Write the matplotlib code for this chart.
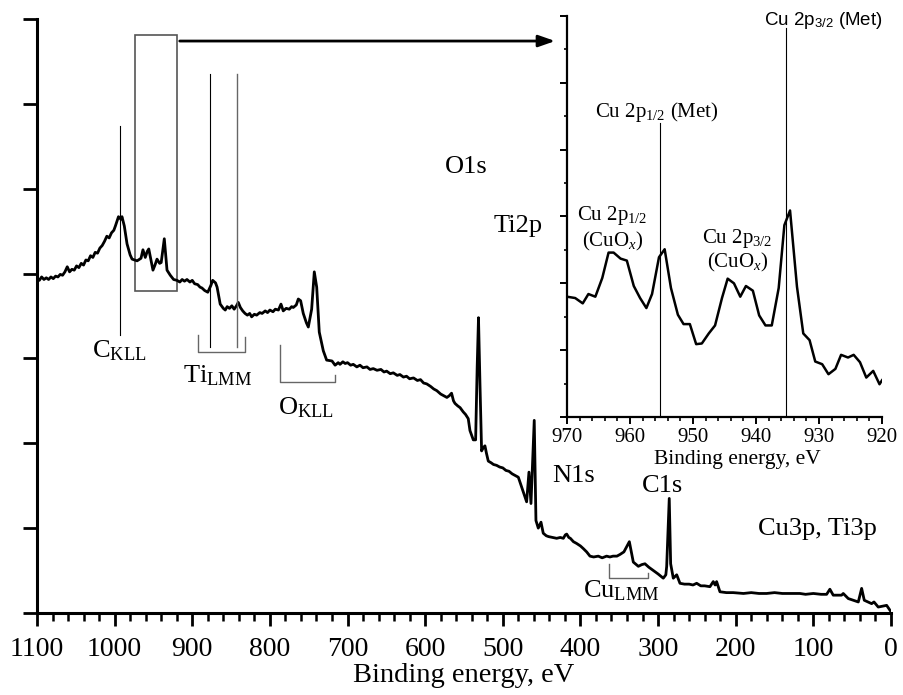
import matplotlib
matplotlib.use("Agg")
import matplotlib.pyplot as plt
from matplotlib.patches import Rectangle
from matplotlib.ticker import MultipleLocator

plt.rcParams['font.family'] = ['Liberation Serif', 'DejaVu Serif']
plt.rcParams['mathtext.fontset'] = 'custom'
plt.rcParams['mathtext.rm'] = 'Liberation Serif'
plt.rcParams['mathtext.it'] = 'Liberation Serif:italic'
plt.rcParams['mathtext.sf'] = 'Liberation Sans'

# survey spectrum (binding energy, eV / intensity, arb. units)
survey_be = [1100, 1097, 1094, 1091, 1088, 1085, 1082, 1079, 1076, 1073, 1070, 1067, 1064, 1061,
             1058, 1055, 1052, 1049, 1046, 1043, 1040, 1037, 1034, 1031, 1028, 1025, 1022, 1019,
             1016, 1013, 1010, 1007, 1004, 1001, 999, 995, 992, 990.5, 987.5,
             984, 980, 977.5, 971, 966, 963.5, 960.5, 958, 956, 953, 950.6, 948, 945.4, 942, 940,
             936, 932.5, 928.3, 924, 919.7, 916, 913, 910, 906.8, 903, 900, 897, 893, 890, 887.5,
             884, 880, 876, 873.7, 870, 868, 864,
             860, 857.5, 855, 852, 849, 846, 843, 840.7, 838, 835, 832, 829, 826, 823.5, 820, 817,
             813, 810, 806, 803, 800, 796, 793, 789, 785.7, 782.8, 779, 775, 772, 769.9, 766,
             763.4, 760.4, 757, 753, 750.5,
             746.2, 742.8, 739.7, 736.4, 731.2, 726.9, 720,
             716, 712, 709.7, 706, 703, 700, 696, 692.6, 688, 684, 680, 675, 671, 666.8, 662, 657,
             653, 649.6, 645, 641, 636, 632.5, 628, 624, 620, 615, 610, 606, 602, 598, 593, 589,
             585, 580, 576, 572, 569, 566, 563.5, 561.6, 558, 555, 551, 548, 544.5, 542.3,
             538, 535, 533, 531.3, 529.4,
             527.3, 525, 523, 521, 518.7, 515, 512, 508, 504, 500, 496, 492, 488, 484, 480, 474.4,
             469.3, 466.3, 463.7, 459.5, 457.3, 454.3, 450.8,
             447.9, 444, 441, 436, 430.6, 426, 422, 419.5, 417.7, 415, 413, 409, 405, 400, 396.4,
             392, 387.7, 383, 377, 372, 366.3, 362, 358, 353, 349, 344, 340.5, 337, 334, 331.9,
             328, 325.4, 321, 316.9, 312, 306.1, 300, 293.3, 290, 288.9, 285.6, 283.8, 280.4, 276,
             271.8, 266, 260, 255, 250.3, 245, 240, 233.2, 228.9, 226.5, 224.6, 220.3, 212, 203.2,
             190, 180, 170, 160.2, 150, 140, 130, 117.3, 110, 100, 90, 82.9, 78.7, 74.4, 63.6,
             61.5, 55, 42.1, 37.8, 34.4, 24.9, 21.9, 16.4, 5.6, 0.4]
survey_int = [3.95, 3.92, 3.96, 3.93, 3.95, 3.93, 3.96, 3.94, 3.97, 3.96, 3.99, 3.98, 4.02, 4.08,
              4.02, 4.05, 4.04, 4.09, 4.07, 4.12, 4.10, 4.16, 4.15, 4.21, 4.19, 4.25, 4.24, 4.30,
              4.33, 4.38, 4.44, 4.42, 4.48, 4.51, 4.56, 4.67, 4.64, 4.67, 4.56,
              4.35, 4.22, 4.17, 4.15, 4.18, 4.28, 4.19, 4.26, 4.29, 4.15, 4.04, 4.10, 4.17, 4.12,
              4.13, 4.41, 4.04, 3.98, 3.93, 3.92, 3.90, 3.93, 3.91, 3.93, 3.90, 3.92, 3.88, 3.87,
              3.84, 3.83, 3.80, 3.78, 3.86, 3.92, 3.89, 3.84, 3.64,
              3.59, 3.57, 3.61, 3.59, 3.62, 3.58, 3.62, 3.66, 3.60, 3.56, 3.53, 3.51, 3.53, 3.49,
              3.52, 3.51, 3.54, 3.53, 3.56, 3.54, 3.57, 3.55, 3.58, 3.57, 3.64, 3.56, 3.59, 3.58,
              3.61, 3.60, 3.63, 3.70, 3.68, 3.53, 3.42, 3.37,
              3.58, 4.02, 3.84, 3.31, 3.09, 2.98, 2.97,
              2.92, 2.95, 2.93, 2.96, 2.94, 2.95, 2.92, 2.93, 2.90, 2.92, 2.89, 2.90, 2.87, 2.88,
              2.86, 2.87, 2.84, 2.85, 2.82, 2.83, 2.80, 2.81, 2.78, 2.79, 2.76, 2.77, 2.74, 2.75,
              2.71, 2.70, 2.67, 2.64, 2.62, 2.58, 2.56, 2.54, 2.56, 2.59, 2.50, 2.47, 2.44, 2.42,
              2.37, 2.34, 2.29, 2.15,
              2.04, 2.04, 2.90, 3.48, 2.70,
              1.91, 1.95, 1.97, 1.88, 1.79, 1.77, 1.75, 1.74, 1.72, 1.71, 1.68, 1.67, 1.64, 1.62,
              1.60, 1.45, 1.31, 1.66, 1.29, 2.27, 1.09, 1.00, 1.07,
              0.94, 0.91, 0.90, 0.89, 0.88, 0.89, 0.88, 0.92, 0.93, 0.89, 0.88, 0.84, 0.82, 0.79,
              0.76, 0.72, 0.67, 0.66, 0.67, 0.65, 0.67, 0.66, 0.67, 0.67, 0.69, 0.72, 0.78, 0.84,
              0.70, 0.60, 0.57, 0.55, 0.57, 0.58, 0.54, 0.50, 0.46, 0.41, 0.45, 0.55, 1.35, 0.58,
              0.41, 0.45,
              0.35, 0.34, 0.34, 0.33, 0.35, 0.32, 0.32, 0.31, 0.37, 0.33, 0.37, 0.25, 0.24, 0.24,
              0.23, 0.24, 0.23, 0.23, 0.24, 0.23, 0.23, 0.23, 0.22, 0.23, 0.22, 0.22, 0.28, 0.21,
              0.21, 0.23, 0.17, 0.13, 0.29, 0.15, 0.11, 0.13, 0.07, 0.09, 0.02]

# Cu 2p detail (inset)
cu_be = [970, 968.7, 967.5, 966.6, 965.5, 964.4, 963.4, 962.6, 961.5, 960.5, 959.4, 958.4, 957.4,
         956.5, 955.4, 954.5, 953.5, 952.4, 951.5, 950.5, 949.5, 948.6, 947.5, 946.5, 945.4,
         944.5, 943.5, 942.5, 941.6, 940.5, 939.5, 938.5, 937.5, 936.4, 935.5, 934.6, 933.5,
         932.5, 931.5, 930.6, 929.5, 928.5, 927.4, 926.5, 925.4, 924.5, 923.5, 922.5, 921.4,
         920.4, 920]
cu_int = [1.80, 1.78, 1.70, 1.84, 1.80, 2.08, 2.46, 2.46, 2.37, 2.34, 1.96, 1.78, 1.63, 1.84,
          2.39, 2.51, 1.93, 1.53, 1.39, 1.39, 1.09, 1.10, 1.25, 1.37, 1.78, 2.07, 2.00, 1.80,
          1.96, 1.89, 1.52, 1.37, 1.37, 1.93, 2.87, 3.09, 1.95, 1.25, 1.15, 0.83, 0.79, 0.64,
          0.72, 0.93, 0.89, 0.93, 0.82, 0.59, 0.69, 0.49, 0.55]

fig = plt.figure(figsize=(9.04, 6.95), dpi=100)
ax = fig.add_axes([0.0409, 0.118, 0.9447, 0.8547])
ax.plot(survey_be, survey_int, color='black', lw=2.0)
ax.set_xlim(1100, 0)
ax.set_ylim(0, 7)
for s in ['top', 'right']:
    ax.spines[s].set_visible(False)
for s in ['left', 'bottom']:
    ax.spines[s].set_linewidth(2.2)
ax.xaxis.set_major_locator(MultipleLocator(100))
ax.xaxis.set_minor_locator(MultipleLocator(20))
ax.yaxis.set_major_locator(MultipleLocator(1))
ax.tick_params(axis='x', which='major', direction='out', length=9, width=2, labelsize=20, pad=8)
ax.tick_params(axis='x', which='minor', direction='out', length=6, width=1.8)
ax.tick_params(axis='y', which='major', direction='out', length=10, width=2, labelleft=False)
ax.set_xlabel('Binding energy, eV', fontsize=20.5, labelpad=1)

# marker lines and brackets
thin = dict(color='black', lw=0.8)
gray = dict(color='#666666', lw=1.0)
ax.plot([993, 993], [3.27, 5.74], **thin)
ax.plot([877, 877], [3.13, 6.35], **thin)
ax.plot([842, 842], [3.13, 6.35], **gray)
ax.plot([892.5, 892.5, 832, 832], [3.28, 3.07, 3.07, 3.25], **gray)
ax.plot([787, 787, 716, 716], [3.16, 2.72, 2.72, 2.81], **gray)
ax.plot([363, 363, 313.5, 313.5], [0.58, 0.41, 0.41, 0.47], **gray)
ax.add_patch(Rectangle((974, 3.79), -54, 3.02, fill=False, edgecolor='#555555', lw=1.2))
ax.annotate('', xy=(429, 6.74), xytext=(919.7, 6.74),
            arrowprops=dict(arrowstyle='-|>,head_length=1.0,head_width=0.35', color='black', lw=2))

lab = 19
ax.text(1029, 3.01, r'C$_{\mathrm{KLL}}$', fontsize=lab, va='baseline')
ax.text(912, 2.72, r'Ti$_{\mathrm{LMM}}$', fontsize=lab, va='baseline')
ax.text(789.6, 2.34, r'O$_{\mathrm{KLL}}$', fontsize=lab, va='baseline')
ax.text(396.8, 0.18, r'Cu$_{\mathrm{LMM}}$', fontsize=lab, va='baseline')
ax.text(574.5, 5.19, 'O1s', fontsize=lab, va='baseline')
ax.text(512.3, 4.49, 'Ti2p', fontsize=lab, va='baseline')
ax.text(436.7, 1.545, 'N1s', fontsize=lab, va='baseline')
ax.text(320.7, 1.43, 'C1s', fontsize=lab, va='baseline')
ax.text(171.3, 0.92, 'Cu3p, Ti3p', fontsize=lab, va='baseline')

# inset
ins = fig.add_axes([0.6272, 0.400, 0.3485, 0.577])
ins.plot(cu_be, cu_int, color='black', lw=1.8)
ins.set_xlim(970, 920)
ins.set_ylim(0, 6)
for s in ['top', 'right']:
    ins.spines[s].set_visible(False)
for s in ['left', 'bottom']:
    ins.spines[s].set_linewidth(1.6)
ins.xaxis.set_major_locator(MultipleLocator(10))
ins.xaxis.set_minor_locator(MultipleLocator(2))
ins.yaxis.set_major_locator(MultipleLocator(1))
ins.yaxis.set_minor_locator(MultipleLocator(0.5))
ins.tick_params(axis='x', which='major', direction='out', length=5, width=1.4, labelsize=15, pad=3)
ins.tick_params(axis='x', which='minor', direction='out', length=3, width=1.2)
ins.tick_params(axis='y', which='major', direction='out', length=5, width=1.4, labelleft=False)
ins.tick_params(axis='y', which='minor', direction='out', length=2.5, width=1.2)
ins.set_xlabel('Binding energy, eV', fontsize=15.5)
ins.xaxis.set_label_coords(0.54, -0.082)
ins.patch.set_alpha(0)

ins.plot([955.2, 955.2], [0, 4.40], color='black', lw=0.8)
ins.plot([935.3, 935.3], [0, 5.82], color='black', lw=0.8)
ins.text(929.3, 5.87, r'Cu 2p$_{\mathsf{3/2}}$ (Met)', fontsize=13.5, family='Liberation Sans',
         ha='center', va='baseline')
ins.text(955.7, 4.49, r'Cu 2p$_{1/2}$ (Met)', fontsize=15, ha='center', va='baseline')
ins.text(962.8, 2.95, r'Cu 2p$_{1/2}$', fontsize=15, ha='center', va='baseline')
ins.text(962.8, 2.55, r'(CuO$_{x}$)', fontsize=15, ha='center', va='baseline')
ins.text(942.9, 2.60, r'Cu 2p$_{3/2}$', fontsize=15, ha='center', va='baseline')
ins.text(942.9, 2.23, r'(CuO$_{x}$)', fontsize=15, ha='center', va='baseline')

fig.savefig('out.png', dpi=100)
